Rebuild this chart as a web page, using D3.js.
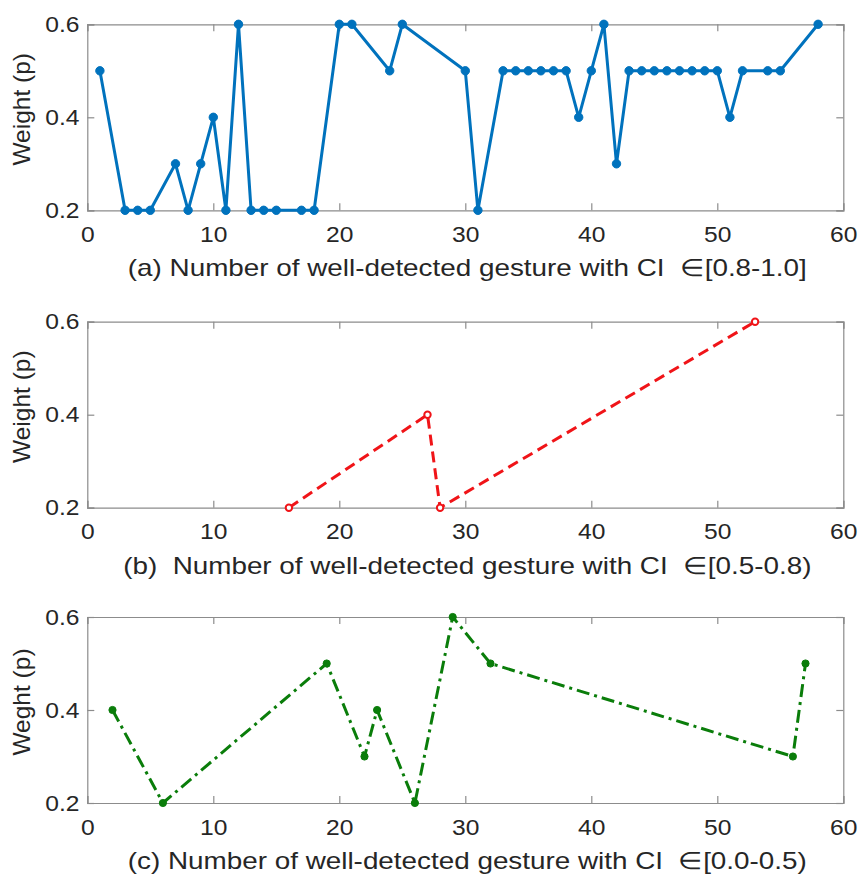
<!DOCTYPE html>
<html>
<head>
<meta charset="utf-8">
<script src="https://cdn.jsdelivr.net/npm/d3@7"></script>
<style>
  body { margin: 0; background: #fff; }
  text { font-family: "Liberation Sans", Arial, sans-serif; fill: #262626; }
</style>
</head>
<body>
<div id="chart"></div>
<script>
// data
const xA = [1, 3, 4, 5, 7, 8, 9, 10, 11, 12, 13, 14, 15, 17, 18, 20, 21, 24, 25, 30,
            31, 33, 34, 35, 36, 37, 38, 39, 40, 41, 42, 43, 44, 45, 46, 47, 48, 49, 50,
            51, 52, 54, 55, 58];
const yA = [0.5, 0.2, 0.2, 0.2, 0.3, 0.2, 0.3, 0.4, 0.2, 0.6, 0.2, 0.2, 0.2, 0.2, 0.2, 0.6, 0.6, 0.5, 0.6, 0.5,
            0.2, 0.5, 0.5, 0.5, 0.5, 0.5, 0.5, 0.4, 0.5, 0.6, 0.3, 0.5, 0.5, 0.5, 0.5, 0.5, 0.5, 0.5, 0.5,
            0.4, 0.5, 0.5, 0.5, 0.6];

const xB = [16, 27, 28, 53];
const yB = [0.2, 0.4, 0.2, 0.6];

const xC = [2, 6, 19, 22, 23, 26, 29, 32, 56, 57];
const yC = [0.4, 0.2, 0.5, 0.3, 0.4, 0.2, 0.6, 0.5, 0.3, 0.5];

const xTicks = [0, 10, 20, 30, 40, 50, 60];
const yTicks = [0.2, 0.4, 0.6];

const titles = [
  "(a) Number of well-detected gesture with CI \u00a0\u2208[0.8-1.0]",
  "(b) \u00a0Number of well-detected gesture with CI \u00a0\u2208[0.5-0.8)",
  "(c) Number of well-detected gesture with CI \u00a0\u2208[0.0-0.5)"
];
const yLabels = ["Weight (p)", "Weight (p)", "Weght (p)"];

const W = 858, H = 875;
const left = 87.3, right = 843.3, ph = 186;
const tops = [24.3, 321.7, 617];
const stretch = 1.12; // the original figure text is a bit wider than Arial

const svg = d3.select("#chart").append("svg")
  .attr("width", W).attr("height", H);

const x = d3.scaleLinear().domain([0, 60]).range([left, right]);

const panels = [
  { xs: xA, ys: yA, color: "#0072bd", dash: null, r: 4.2, open: false },
  { xs: xB, ys: yB, color: "#f01418", dash: "11,6", r: 3.2, open: true },
  { xs: xC, ys: yC, color: "#0a7d0a", dash: "13,5,3,5", r: 3.6, open: false }
];

panels.forEach((p, i) => {
  const top = tops[i], bottom = top + ph;
  const y = d3.scaleLinear().domain([0.2, 0.6]).range([bottom, top]);
  const g = svg.append("g");

  // axes box + inward ticks (matlab style)
  const tickLen = 7;
  const axB = d3.axisBottom(x).tickValues(xTicks).tickSize(-tickLen).tickPadding(16).tickFormat(d3.format("d"));
  const axT = d3.axisTop(x).tickValues(xTicks).tickSize(-tickLen).tickFormat("");
  const axL = d3.axisLeft(y).tickValues(yTicks).tickSize(-tickLen).tickPadding(7).tickFormat(d3.format(".1f"));
  const axR = d3.axisRight(y).tickValues(yTicks).tickSize(-tickLen).tickFormat("");

  [[axB, `translate(0,${bottom})`], [axT, `translate(0,${top})`],
   [axL, `translate(${left},0)`], [axR, `translate(${right},0)`]].forEach(([ax, tr]) => {
    const a = g.append("g").attr("transform", tr).call(ax);
    a.select(".domain").attr("stroke", "#8c8c8c").attr("stroke-width", 1.2);
    a.selectAll(".tick line").attr("stroke", "#8c8c8c").attr("stroke-width", 1.2);
    a.selectAll(".tick text")
      .attr("fill", "#1f1f1f")
      .attr("transform", `scale(${stretch},1)`)
      .style("font-size", "22px")
      .style("font-family", "'Liberation Sans', Arial, sans-serif");
  });
  g.selectAll(".tick text").filter(function () { return this.textContent === ""; }).remove();

  // y axis label
  g.append("text")
    .attr("transform", `translate(24,${(top + bottom) / 2 - 8}) rotate(-90)`)
    .attr("text-anchor", "middle")
    .attr("dominant-baseline", "middle")
    .style("font-size", "24.5px")
    .text(yLabels[i]);

  // x title
  const cx = (left + right) / 2 + 2;
  g.append("text")
    .attr("transform", `translate(${cx},${bottom + 66}) scale(1.16,1)`)
    .attr("text-anchor", "middle")
    .style("font-size", "24px")
    .text(titles[i]);

  const pts = p.xs.map((v, k) => [v, p.ys[k]]);
  const line = d3.line().x(d => x(d[0])).y(d => y(d[1]));

  g.append("path")
    .datum(pts)
    .attr("d", line)
    .attr("fill", "none")
    .attr("stroke", p.color)
    .attr("stroke-width", 3)
    .attr("stroke-linejoin", "round")
    .attr("stroke-dasharray", p.dash);

  g.selectAll("circle.m")
    .data(pts)
    .join("circle")
    .attr("class", "m")
    .attr("cx", d => x(d[0]))
    .attr("cy", d => y(d[1]))
    .attr("r", p.r)
    .attr("fill", p.open ? "#fff" : p.color)
    .attr("stroke", p.color)
    .attr("stroke-width", p.open ? 2 : 1);
});
</script>
</body>
</html>
